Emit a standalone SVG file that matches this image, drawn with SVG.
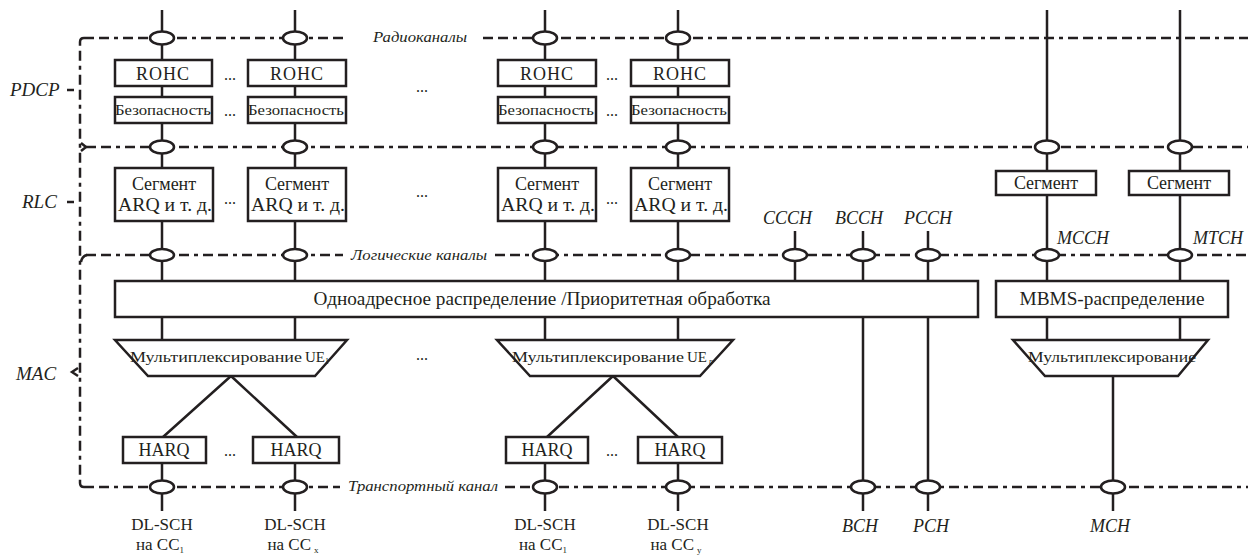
<svg xmlns="http://www.w3.org/2000/svg" width="1258" height="555" viewBox="0 0 1258 555">
<style>
.bx{fill:#fff;stroke:#231f20;stroke-width:2.5}
.ln{stroke:#231f20;stroke-width:2.5;fill:none}
.ds{stroke:#231f20;stroke-width:2.5;fill:none;stroke-dasharray:10 5 10 5 4 5}
.el{fill:#fff;stroke:#231f20;stroke-width:2.5}
.t{font-family:"Liberation Serif","Times New Roman",Tinos,"DejaVu Serif","Noto Serif",serif;fill:#231f20;text-anchor:middle}
.n{font-family:"Liberation Serif","Times New Roman",Tinos,"DejaVu Serif","Noto Serif",serif;fill:#231f20}
.it{font-family:"Liberation Serif","Times New Roman",Tinos,"DejaVu Serif","Noto Serif",serif;font-style:italic;fill:#231f20}
.b18{font-size:18px}
.b17{font-size:17px}
.dots{font-size:16px}
</style>
<rect width="1258" height="555" fill="#fff"/>

<g id="layer-lines">
<path class="ds" d="M84 38 Q80 38 80 42 L80 483 Q80 487 84 487"/>
<line class="ds" x1="84" y1="38" x2="348" y2="38"/>
<line class="ds" x1="483" y1="38" x2="1248" y2="38"/>
<line class="ds" x1="86" y1="147" x2="1248" y2="147"/>
<path class="ln" d="M81 143 L86 147 L81 151" stroke-width="2"/>
<line class="ds" x1="86" y1="255" x2="343" y2="255"/>
<line class="ds" x1="495" y1="255" x2="1248" y2="255"/>
<path class="ln" d="M87 255 Q82 256 81 262" stroke-width="2"/>
<line class="ds" x1="84" y1="487" x2="340" y2="487"/>
<line class="ds" x1="505" y1="487" x2="1248" y2="487"/>
<line class="ln" x1="67" y1="90" x2="74" y2="90"/>
<line class="ln" x1="67" y1="202" x2="74" y2="202"/>
<path class="ln" d="M78 368 L72 372 L78 376" stroke-width="2"/>
<text class="it" x="10" y="96" font-size="19">PDCP</text>
<text class="it" x="22" y="208" font-size="19">RLC</text>
<text class="it" x="16" y="380" font-size="19">MAC</text>
<text class="it" x="373" y="42" font-size="14" textLength="94" lengthAdjust="spacingAndGlyphs">Радиоканалы</text>
<text class="it" x="351" y="260" font-size="14" textLength="136" lengthAdjust="spacingAndGlyphs">Логические каналы</text>
<text class="it" x="348" y="491" font-size="14" textLength="150" lengthAdjust="spacingAndGlyphs">Транспортный канал</text>
</g>

<g id="connectors">
<path class="ln" d="M162 10V60M295 10V60M545 10V60M678 10V60"/>
<path class="ln" d="M162 86V97M295 86V97M545 86V97M678 86V97"/>
<path class="ln" d="M162 123V168M295 123V168M545 123V168M678 123V168"/>
<path class="ln" d="M162 221V281M295 221V281M545 221V281M678 221V281"/>
<path class="ln" d="M162 317V340M295 317V340M545 317V340M678 317V340"/>
<path class="ln" d="M231 376L163 437M231 376L297 437M613 376L547 437M613 376L678 437"/>
<path class="ln" d="M162 463V511M295 463V511M545 463V511M678 463V511"/>
<path class="ln" d="M1047 10V171M1180 10V171M1047 195V281M1180 195V281M1047 317V340M1180 317V340"/>
<path class="ln" d="M1113 376V511"/>
<path class="ln" d="M795 231V281M863 231V281M928 231V281M863 317V511M928 317V511"/>
<ellipse class="el" cx="162" cy="38" rx="12" ry="6.5"/>
<ellipse class="el" cx="295" cy="38" rx="12" ry="6.5"/>
<ellipse class="el" cx="545" cy="38" rx="12" ry="6.5"/>
<ellipse class="el" cx="678" cy="38" rx="12" ry="6.5"/>
<ellipse class="el" cx="162" cy="147" rx="12" ry="6.5"/>
<ellipse class="el" cx="295" cy="147" rx="12" ry="6.5"/>
<ellipse class="el" cx="545" cy="147" rx="12" ry="6.5"/>
<ellipse class="el" cx="678" cy="147" rx="12" ry="6.5"/>
<ellipse class="el" cx="1047" cy="147" rx="12" ry="6.5"/>
<ellipse class="el" cx="1180" cy="147" rx="12" ry="6.5"/>
<ellipse class="el" cx="162" cy="255" rx="12" ry="6"/>
<ellipse class="el" cx="295" cy="255" rx="12" ry="6"/>
<ellipse class="el" cx="545" cy="255" rx="12" ry="6"/>
<ellipse class="el" cx="678" cy="255" rx="12" ry="6"/>
<ellipse class="el" cx="795" cy="255" rx="12" ry="6"/>
<ellipse class="el" cx="863" cy="255" rx="12" ry="6"/>
<ellipse class="el" cx="928" cy="255" rx="12" ry="6"/>
<ellipse class="el" cx="1047" cy="255" rx="12" ry="6"/>
<ellipse class="el" cx="1180" cy="255" rx="12" ry="6"/>
<ellipse class="el" cx="162" cy="487" rx="12" ry="6.5"/>
<ellipse class="el" cx="295" cy="487" rx="12" ry="6.5"/>
<ellipse class="el" cx="545" cy="487" rx="12" ry="6.5"/>
<ellipse class="el" cx="678" cy="487" rx="12" ry="6.5"/>
<ellipse class="el" cx="863" cy="487" rx="12" ry="6.5"/>
<ellipse class="el" cx="928" cy="487" rx="12" ry="6.5"/>
<ellipse class="el" cx="1113" cy="487" rx="12" ry="6.5"/>
<text class="it" x="763" y="224" font-size="18">CCCH</text>
<text class="it" x="835" y="224" font-size="18">BCCH</text>
<text class="it" x="904" y="224" font-size="18">PCCH</text>
<text class="it" x="1057" y="244" font-size="18">MCCH</text>
<text class="it" x="1193" y="244" font-size="18">MTCH</text>
<text class="it" x="842" y="532" font-size="18">BCH</text>
<text class="it" x="913" y="532" font-size="18">PCH</text>
<text class="it" x="1090" y="532" font-size="18">MCH</text>
</g>

<g id="rohc-1"><rect class="bx" x="115" y="60" width="97" height="26"/><text class="t b18" x="163" y="80" letter-spacing="1">ROHC</text></g>
<g id="rohc-2"><rect class="bx" x="248" y="60" width="98" height="26"/><text class="t b18" x="297" y="80" letter-spacing="1">ROHC</text></g>
<g id="rohc-3"><rect class="bx" x="498" y="60" width="98" height="26"/><text class="t b18" x="547" y="80" letter-spacing="1">ROHC</text></g>
<g id="rohc-4"><rect class="bx" x="631" y="60" width="98" height="26"/><text class="t b18" x="680" y="80" letter-spacing="1">ROHC</text></g>

<g id="sec-1"><rect class="bx" x="115" y="97" width="97" height="26"/><text class="t" x="163" y="115" font-size="15" textLength="96" lengthAdjust="spacingAndGlyphs">Безопасность</text></g>
<g id="sec-2"><rect class="bx" x="248" y="97" width="98" height="26"/><text class="t" x="296" y="115" font-size="15" textLength="96" lengthAdjust="spacingAndGlyphs">Безопасность</text></g>
<g id="sec-3"><rect class="bx" x="498" y="97" width="98" height="26"/><text class="t" x="546" y="115" font-size="15" textLength="96" lengthAdjust="spacingAndGlyphs">Безопасность</text></g>
<g id="sec-4"><rect class="bx" x="631" y="97" width="98" height="26"/><text class="t" x="679" y="115" font-size="15" textLength="96" lengthAdjust="spacingAndGlyphs">Безопасность</text></g>

<g id="seg-1"><rect class="bx" x="115" y="168" width="98" height="53"/><text class="t b18" x="164" y="190">Сегмент</text><text class="t b18" x="165" y="211" textLength="94" lengthAdjust="spacingAndGlyphs">ARQ и т. д.</text></g>
<g id="seg-2"><rect class="bx" x="248" y="168" width="98" height="53"/><text class="t b18" x="297" y="190">Сегмент</text><text class="t b18" x="298" y="211" textLength="94" lengthAdjust="spacingAndGlyphs">ARQ и т. д.</text></g>
<g id="seg-3"><rect class="bx" x="498" y="168" width="98" height="53"/><text class="t b18" x="547" y="190">Сегмент</text><text class="t b18" x="548" y="211" textLength="94" lengthAdjust="spacingAndGlyphs">ARQ и т. д.</text></g>
<g id="seg-4"><rect class="bx" x="631" y="168" width="98" height="53"/><text class="t b18" x="680" y="190">Сегмент</text><text class="t b18" x="681" y="211" textLength="94" lengthAdjust="spacingAndGlyphs">ARQ и т. д.</text></g>
<g id="seg-mcch"><rect class="bx" x="996" y="171" width="100" height="24"/><text class="t b18" x="1046" y="189">Сегмент</text></g>
<g id="seg-mtch"><rect class="bx" x="1129" y="171" width="100" height="24"/><text class="t b18" x="1179" y="189">Сегмент</text></g>

<g id="unicast"><rect class="bx" x="115" y="281" width="863" height="36"/><text class="t b18" x="542" y="305" textLength="457" lengthAdjust="spacingAndGlyphs">Одноадресное распределение /Приоритетная обработка</text></g>
<g id="mbms"><rect class="bx" x="996" y="281" width="232" height="36"/><text class="t b18" x="1112" y="305" textLength="185" lengthAdjust="spacingAndGlyphs">MBMS-распределение</text></g>

<g id="mux-1"><polygon class="bx" points="115,340 347,340 315,376 148,376"/><text class="n" x="130" y="362" font-size="14" textLength="172" lengthAdjust="spacingAndGlyphs">Мультиплексирование</text><text class="n" x="305" y="362" font-size="15">UE<tspan font-size="8" dy="2">1</tspan></text></g>
<g id="mux-n"><polygon class="bx" points="497,340 733,340 700,376 530,376"/><text class="n" x="512" y="362" font-size="14" textLength="172" lengthAdjust="spacingAndGlyphs">Мультиплексирование</text><text class="n" x="687" y="362" font-size="15">UE<tspan font-size="8" dy="2" dx="2" font-style="italic">n</tspan></text></g>
<g id="mux-mbms"><polygon class="bx" points="1013,340 1208,340 1178,376 1045,376"/><text class="t" x="1112" y="362" font-size="14" textLength="168" lengthAdjust="spacingAndGlyphs">Мультиплексирование</text></g>

<g id="harq-1"><rect class="bx" x="123" y="437" width="83" height="26"/><text class="t b18" x="164" y="456">HARQ</text></g>
<g id="harq-2"><rect class="bx" x="253" y="437" width="86" height="26"/><text class="t b18" x="296" y="456">HARQ</text></g>
<g id="harq-3"><rect class="bx" x="506" y="437" width="82" height="26"/><text class="t b18" x="547" y="456">HARQ</text></g>
<g id="harq-4"><rect class="bx" x="638" y="437" width="84" height="26"/><text class="t b18" x="680" y="456">HARQ</text></g>

<g id="dots">
<text class="t dots" x="230" y="80">...</text>
<text class="t dots" x="230" y="116">...</text>
<text class="t dots" x="612" y="80">...</text>
<text class="t dots" x="612" y="116">...</text>
<text class="t dots" x="422" y="92">...</text>
<text class="t dots" x="230" y="204">...</text>
<text class="t dots" x="612" y="204">...</text>
<text class="t dots" x="422" y="197">...</text>
<text class="t dots" x="422" y="360">...</text>
<text class="t dots" x="230" y="456">...</text>
<text class="t dots" x="612" y="456">...</text>
</g>

<g id="dlsch-labels">
<text class="t b17"><tspan x="162" y="530">DL-SCH</tspan><tspan x="160" y="550">на CC</tspan><tspan font-size="9" dy="3">1</tspan></text>
<text class="t b17"><tspan x="295" y="530">DL-SCH</tspan><tspan x="293" y="550">на CC</tspan><tspan font-size="9" dy="3" dx="3">x</tspan></text>
<text class="t b17"><tspan x="545" y="530">DL-SCH</tspan><tspan x="543" y="550">на CC</tspan><tspan font-size="9" dy="3">1</tspan></text>
<text class="t b17"><tspan x="678" y="530">DL-SCH</tspan><tspan x="676" y="550">на CC</tspan><tspan font-size="9" dy="3" dx="3">y</tspan></text>
</g>
</svg>
